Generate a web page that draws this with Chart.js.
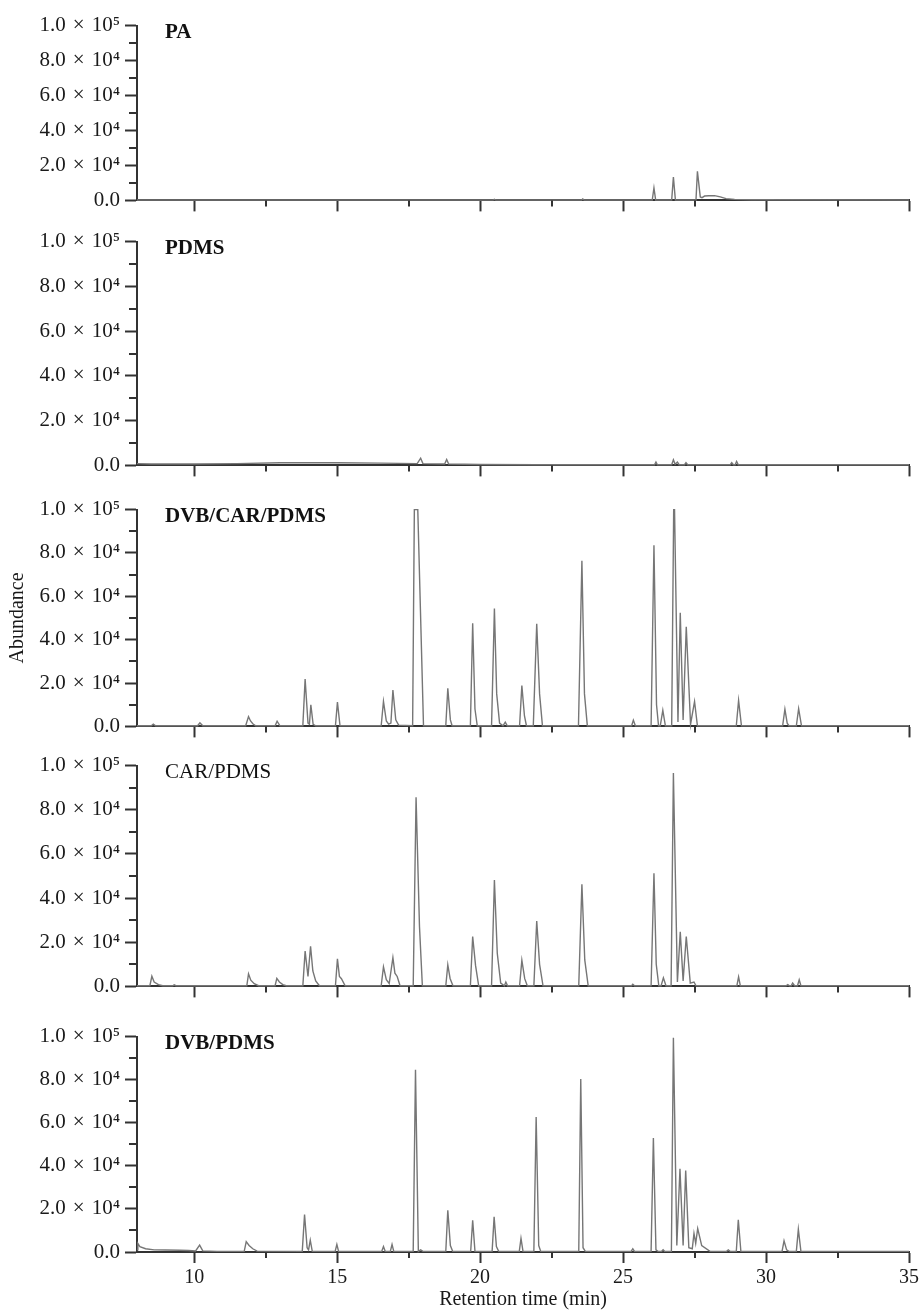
<!DOCTYPE html>
<html>
<head>
<meta charset="utf-8">
<script src="https://cdn.jsdelivr.net/npm/chart.js@4.4.0/dist/chart.umd.min.js"></script>
<style>
  body { margin: 0; background: #fff; }
  #wrap { position: relative; width: 922px; height: 1312px; overflow: hidden; }
  #wrap canvas { position: absolute; left: 0; }
</style>
</head>
<body>
<div id="wrap"></div>
<script>
// axis ticks shared by every panel
const xTicks = [10, 15, 20, 25, 30, 35]
const yTicks = [0, 20000, 40000, 60000, 80000, 100000]
const yTickLabels = ['0.0', '2.0\u2004×\u200410⁴', '4.0\u2004×\u200410⁴', '6.0\u2004×\u200410⁴', '8.0\u2004×\u200410⁴', '1.0\u2004×\u200410⁵']
const fiberNames = ['PA', 'PDMS', 'DVB/CAR/PDMS', 'CAR/PDMS', 'DVB/PDMS']

// [retention time (min), abundance]
const paTrace = [
    [8, 200], [20.45, 200], [20.5, 600], [20.55, 200], [23.55, 200], [23.59, 800], [23.64, 200],
    [26.02, 200], [26.08, 7100], [26.14, 200],
    [26.7, 200], [26.76, 13300], [26.83, 200],
    [27.55, 200], [27.6, 16700], [27.7, 2000], [27.76, 1600], [27.85, 2500], [28.0, 2700], [28.2, 2700],
    [28.4, 2000], [28.6, 1000], [28.9, 600], [29.5, 400], [35, 200]
]

const pdmsTrace = [
    [8, 800], [8.5, 600], [10, 600], [11.5, 800], [13, 1200], [15, 1200], [16.5, 1000],
    [17.8, 800], [17.92, 3200], [18.0, 800], [18.76, 600], [18.83, 2600], [18.9, 600],
    [20, 400], [22, 300], [26.1, 300], [26.15, 1500], [26.2, 300],
    [26.7, 300], [26.76, 2500], [26.82, 500], [26.9, 1500], [26.96, 300],
    [27.15, 300], [27.2, 1200], [27.26, 300],
    [28.75, 300], [28.8, 1200], [28.86, 300], [28.92, 300], [28.97, 1800], [29.03, 300], [35, 300]
]

const dvbCarPdmsTrace = [
    [8.0, 300], [8.5, 300], [8.57, 1000], [8.65, 300],
    [10.12, 300], [10.2, 1700], [10.3, 300],
    [11.8, 300], [11.9, 4500], [11.97, 2500], [12.05, 1200], [12.15, 300],
    [12.83, 300], [12.9, 2400], [13.0, 300],
    [13.8, 300], [13.88, 21800], [13.98, 1500], [14.03, 1000], [14.08, 10000], [14.16, 1000], [14.25, 300],
    [14.94, 300], [15.01, 11200], [15.1, 300],
    [16.54, 300], [16.62, 11500], [16.72, 2500], [16.8, 1000], [16.88, 1500], [16.95, 16800], [17.05, 3000], [17.15, 600],
    [17.64, 300], [17.7, 100000], [17.82, 100000], [18.02, 300],
    [18.8, 300], [18.87, 17600], [18.96, 3000], [19.02, 300],
    [19.66, 300], [19.74, 47600], [19.82, 8000], [19.9, 300],
    [20.4, 300], [20.5, 54400], [20.58, 15000], [20.68, 1500], [20.8, 300], [20.88, 2000], [20.95, 300],
    [21.38, 300], [21.46, 18800], [21.55, 5000], [21.62, 300],
    [21.86, 300], [21.98, 47300], [22.08, 15000], [22.18, 300],
    [23.44, 300], [23.56, 76400], [23.65, 15000], [23.75, 300],
    [25.3, 300], [25.36, 2900], [25.43, 300],
    [25.98, 300], [26.08, 83600], [26.17, 10000], [26.24, 300],
    [26.3, 300], [26.39, 7400], [26.48, 300],
    [26.7, 300], [26.77, 100000], [26.8, 100000], [26.92, 2000], [27.0, 52400], [27.1, 3000],
    [27.21, 46000], [27.36, 1000], [27.5, 11500], [27.6, 300], [28.0, 300],
    [28.96, 300], [29.04, 12000], [29.14, 300],
    [30.58, 300], [30.66, 7900], [30.74, 1500], [30.8, 300],
    [31.06, 300], [31.14, 8200], [31.24, 300], [35, 300]
]

const carPdmsTrace = [
    [8.0, 300], [8.45, 300], [8.52, 4600], [8.6, 2000], [8.75, 800], [8.9, 300],
    [9.25, 300], [9.3, 700], [9.36, 300],
    [11.84, 300], [11.9, 5700], [11.98, 2800], [12.1, 1200], [12.25, 300],
    [12.83, 300], [12.89, 3600], [12.98, 2000], [13.1, 800], [13.22, 300],
    [13.8, 300], [13.88, 16000], [13.98, 4500], [14.07, 18200], [14.15, 7000], [14.25, 2500], [14.38, 300],
    [14.94, 300], [15.01, 12500], [15.08, 4500], [15.15, 3500], [15.28, 300],
    [16.54, 300], [16.62, 8800], [16.72, 3000], [16.82, 1300], [16.95, 13000], [17.02, 6000], [17.1, 4500], [17.2, 300],
    [17.66, 300], [17.76, 85700], [17.88, 27000], [17.98, 300],
    [18.8, 300], [18.87, 9800], [18.95, 3600], [19.05, 300],
    [19.66, 300], [19.74, 22600], [19.84, 9500], [19.95, 300],
    [20.4, 300], [20.5, 48200], [20.6, 15000], [20.72, 1500], [20.85, 300], [20.9, 2000], [20.96, 300],
    [21.38, 300], [21.46, 11800], [21.56, 3500], [21.65, 300],
    [21.88, 300], [21.98, 29600], [22.08, 10000], [22.2, 300],
    [23.45, 300], [23.56, 46300], [23.66, 12000], [23.78, 300],
    [25.3, 300], [25.34, 1000], [25.4, 300],
    [25.98, 300], [26.08, 51200], [26.16, 10000], [26.25, 300],
    [26.33, 300], [26.41, 3900], [26.5, 300],
    [26.68, 300], [26.76, 96600], [26.9, 2000], [27.0, 24700], [27.1, 2500], [27.21, 22600],
    [27.35, 1500], [27.48, 2000], [27.55, 300],
    [28.98, 300], [29.04, 4300], [29.1, 300],
    [30.7, 300], [30.76, 800], [30.82, 300], [30.88, 300], [30.93, 1500], [31.0, 300],
    [31.1, 300], [31.16, 3000], [31.22, 300], [35, 300]
]

const dvbPdmsTrace = [
    [8.0, 1000], [8.03, 4000], [8.1, 2500], [8.3, 1500], [8.6, 1000], [9.0, 900], [9.5, 800], [9.8, 700],
    [10.05, 500], [10.19, 3200], [10.3, 500], [10.8, 300],
    [11.75, 300], [11.82, 4800], [11.92, 3000], [12.05, 1500], [12.2, 400],
    [13.78, 300], [13.86, 17400], [13.95, 2000], [14.0, 1000], [14.06, 5500], [14.13, 300],
    [14.93, 300], [14.99, 3500], [15.05, 300],
    [16.56, 300], [16.62, 2500], [16.68, 300], [16.86, 300], [16.92, 3500], [16.98, 300],
    [17.66, 300], [17.74, 84600], [17.84, 300], [17.92, 1000], [18.0, 300],
    [18.8, 300], [18.87, 19400], [18.96, 3000], [19.04, 300],
    [19.67, 300], [19.74, 14700], [19.82, 300],
    [20.42, 300], [20.49, 16300], [20.57, 2500], [20.65, 300],
    [21.37, 300], [21.43, 6300], [21.5, 300],
    [21.88, 300], [21.96, 62700], [22.05, 3000], [22.12, 300],
    [23.45, 300], [23.52, 80300], [23.6, 2000], [23.68, 300],
    [25.28, 300], [25.34, 1500], [25.4, 300],
    [25.98, 300], [26.06, 52900], [26.15, 1000], [26.22, 300],
    [26.35, 300], [26.4, 1000], [26.45, 300],
    [26.69, 300], [26.76, 99500], [26.88, 3000], [26.99, 38600], [27.1, 3000], [27.19, 37800],
    [27.3, 2000], [27.42, 1500], [27.48, 8600], [27.54, 4000], [27.61, 10900], [27.75, 3000], [28.04, 300],
    [28.62, 300], [28.68, 1000], [28.74, 300],
    [28.96, 300], [29.03, 15000], [29.12, 300],
    [30.56, 300], [30.63, 5200], [30.72, 1000], [30.8, 300],
    [31.06, 300], [31.13, 10500], [31.22, 300], [35, 300]
]

const traces = [paTrace, pdmsTrace, dvbCarPdmsTrace, carPdmsTrace, dvbPdmsTrace]

// plot area of each panel on the page (top / bottom edge, px)
const panelBoxes = [
    { top: 24, bottom: 202 },
    { top: 240, bottom: 467 },
    { top: 508, bottom: 728 },
    { top: 764, bottom: 988 },
    { top: 1035, bottom: 1252 }
]
const boldName = [true, true, true, false, true]

const PAD_TOP = 16
const AXIS_LEFT = 137
const PAD_RIGHT = 13
const INK = '#333'

Chart.defaults.font.family = '"Liberation Serif", "Times New Roman", serif'
Chart.defaults.color = '#1a1a1a'

// short ticks halfway between the labelled ones
const minorTicks = {
    id: 'minorTicks',
    afterDraw(chart) {
        const { ctx, scales: { x, y } } = chart
        ctx.save()
        ctx.strokeStyle = INK
        ctx.lineWidth = 2
        ctx.beginPath()
        for (let k = 1; k < xTicks.length; k++) {
            const px = Math.round(x.getPixelForValue((xTicks[k - 1] + xTicks[k]) / 2))
            ctx.moveTo(px, x.top)
            ctx.lineTo(px, x.top + 6)
        }
        for (let k = 1; k < yTicks.length; k++) {
            const py = Math.round(y.getPixelForValue((yTicks[k - 1] + yTicks[k]) / 2))
            ctx.moveTo(y.right, py)
            ctx.lineTo(y.right - 8, py)
        }
        ctx.stroke()
        ctx.restore()
    }
}

const panelName = {
    id: 'panelName',
    afterDraw(chart, args, opts) {
        const { ctx, chartArea } = chart
        ctx.save()
        ctx.font = `${opts.bold ? 'bold ' : ''}21px "Liberation Serif", serif`
        ctx.fillStyle = '#111'
        ctx.textBaseline = 'middle'
        ctx.fillText(opts.text, chartArea.left + 28, chartArea.top + 7)
        ctx.restore()
    }
}

const wrap = document.getElementById('wrap')

function makePanel(i) {
    const box = panelBoxes[i]
    const last = i === panelBoxes.length - 1
    const axisH = last ? 60 : 16

    const canvas = document.createElement('canvas')
    canvas.width = 922
    canvas.height = box.bottom - box.top + PAD_TOP + axisH
    canvas.style.top = (box.top - PAD_TOP) + 'px'
    wrap.appendChild(canvas)

    return new Chart(canvas, {
        type: 'line',
        data: {
            datasets: [{
                data: traces[i].map(([x, y]) => ({ x, y })),
                borderColor: '#767676',
                borderWidth: 1.4,
                pointRadius: 0,
                tension: 0,
                clip: false
            }]
        },
        options: {
            responsive: false,
            animation: false,
            events: [],
            layout: { padding: { top: PAD_TOP, right: PAD_RIGHT, left: 0, bottom: 0 } },
            plugins: {
                legend: { display: false },
                tooltip: { enabled: false },
                panelName: { text: fiberNames[i], bold: boldName[i] }
            },
            scales: {
                x: {
                    type: 'linear',
                    min: 8,
                    max: 35,
                    afterBuildTicks: s => { s.ticks = xTicks.map(value => ({ value })) },
                    afterFit: s => { s.height = axisH },
                    grid: { drawOnChartArea: false, tickLength: 11, tickWidth: 2, tickColor: INK },
                    border: { width: 2, color: INK },
                    ticks: { display: last, autoSkip: false, maxRotation: 0, padding: 3, font: { size: 20 } },
                    title: { display: last, text: 'Retention time (min)', font: { size: 20 }, padding: 0 }
                },
                y: {
                    min: 0,
                    max: 100000,
                    afterBuildTicks: s => { s.ticks = yTicks.map(value => ({ value })) },
                    afterFit: s => { s.width = AXIS_LEFT },
                    grid: { drawOnChartArea: false, tickLength: 12, tickWidth: 2, tickColor: INK },
                    border: { width: 2, color: INK },
                    ticks: {
                        autoSkip: false,
                        padding: 5,
                        font: { size: 21 },
                        callback: v => yTickLabels[yTicks.indexOf(v)]
                    },
                    title: { display: i === 2, text: 'Abundance', font: { size: 20 }, padding: { top: 6, bottom: 0 } }
                }
            }
        },
        plugins: [minorTicks, panelName]
    })
}

panelBoxes.forEach((b, i) => makePanel(i))
</script>
</body>
</html>
